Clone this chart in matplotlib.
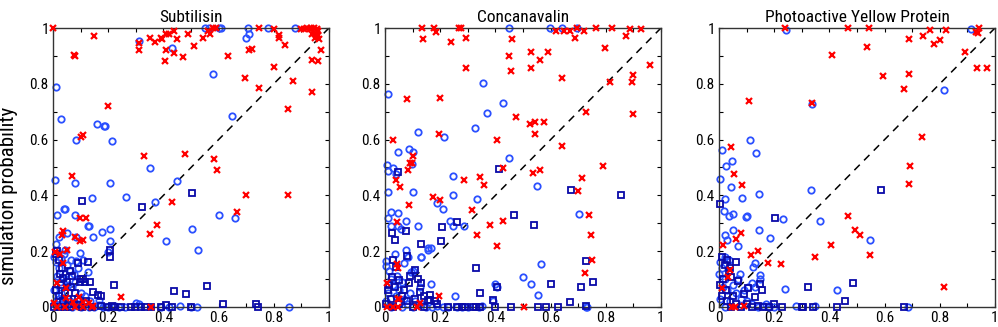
import matplotlib
matplotlib.use("Agg")
import matplotlib.pyplot as plt
from matplotlib import font_manager
import numpy as np

# ---------------- data ----------------
titles = ["Subtilisin", "Concanavalin", "Photoactive Yellow Protein"]
ylabel_text = "simulation probability"
tick_vals = [0, 0.2, 0.4, 0.6, 0.8, 1]
tick_labels = ["0", "0.2", "0.4", "0.6", "0.8", "1"]

# Subtilisin
sub_cross = [(0.0,1.0),(0.15,0.97),(0.08,0.90),(0.075,0.905),(0.2,0.72),(0.10,0.61),(0.11,0.615),(0.07,0.47),
    (0.33,0.54),(0.48,0.55),(0.585,0.53),(0.595,0.49),(0.43,0.375),(0.375,0.295),(0.35,0.26),(0.70,0.40),
    (0.667,0.34),(0.85,0.40),(0.85,0.71),(0.94,0.77),(0.745,0.785),(0.695,0.82),(0.80,0.86),(0.87,0.81),
    (0.635,0.90),(0.71,0.92),(0.72,0.925),(0.84,0.94),(0.82,0.975),(0.82,0.965),(0.80,0.995),(0.745,1.0),
    (0.90,0.995),(0.91,0.995),(0.92,1.0),(0.935,1.0),(0.945,1.0),(0.955,0.995),(0.96,0.99),(0.95,0.98),
    (0.96,0.975),(0.94,0.98),(0.93,0.995),(0.965,0.96),(0.97,0.92),(0.94,0.885),(0.96,0.88),(0.95,0.965),
    (0.31,0.92),(0.31,0.945),(0.35,0.965),(0.37,0.95),(0.39,0.965),(0.395,0.96),(0.41,0.98),(0.42,0.98),
    (0.44,0.99),(0.45,0.96),(0.44,0.91),(0.41,0.92),(0.405,0.88),(0.47,0.895),(0.49,0.98),(0.51,0.935),
    (0.545,0.965),(0.56,0.99),(0.57,0.98),(0.58,1.0),(0.59,1.0),
    (0.037,0.274),(0.034,0.258),(0.08,0.25),(0.098,0.235),(0.097,0.32),(0.12,0.32),(0.05,0.204),(0.007,0.198),
    (0.025,0.19),(0.037,0.156),(0.013,0.085),(0.046,0.067),(0.248,0.037),(0.005,0.016),(0.047,0.031),
    (0.073,0.019),(0.093,0.035),(0.11,0.019),(0.13,0.013),(0.146,0.004),(0.013,0.0),(0.043,0.0),(0.08,0.0),
    (0.11,0.0),(0.14,0.0),(0.356,0.0),(0.107,0.24)]
sub_circle = [(0.01,0.79),(0.03,0.675),(0.16,0.655),(0.185,0.65),(0.19,0.648),(0.085,0.6),(0.215,0.595),
    (0.006,0.455),(0.08,0.445),(0.205,0.445),(0.35,0.50),(0.45,0.45),(0.263,0.395),(0.37,0.375),(0.14,0.39),
    (0.04,0.35),(0.042,0.352),(0.015,0.33),(0.078,0.33),(0.125,0.29),(0.13,0.29),(0.60,0.33),(0.66,0.32),
    (0.505,0.28),(0.525,0.205),(0.41,0.235),(0.178,0.27),(0.208,0.28),(0.205,0.235),(0.145,0.25),(0.085,0.252),
    (0.05,0.264),(0.02,0.252),(0.01,0.226),(0.65,0.685),(0.58,0.835),(0.43,0.93),(0.312,0.955),(0.55,1.0),
    (0.565,1.0),(0.6,1.0),(0.61,1.0),(0.705,1.0),(0.71,0.98),(0.70,0.965),(0.78,1.0),(0.875,1.0),
    (0.855,0.0),(0.52,0.0),(0.5,0.0),(0.46,0.005),(0.42,0.0),(0.39,0.0),(0.31,0.01),(0.30,0.015),(0.26,0.0),
    (0.24,0.0),(0.225,0.003),(0.2,0.0),(0.18,0.0),(0.165,0.008),(0.15,0.0),
    (0.097,0.192),(0.11,0.168),(0.128,0.127),(0.2,0.198),(0.005,0.18),(0.01,0.16),(0.02,0.14),(0.03,0.175),
    (0.04,0.19),(0.05,0.15),(0.06,0.13),(0.075,0.12),(0.085,0.165),(0.09,0.14),(0.015,0.11),(0.025,0.09),
    (0.035,0.1),(0.045,0.12),(0.055,0.08),(0.07,0.07),(0.08,0.09),(0.1,0.05),(0.115,0.04),(0.005,0.06),
    (0.01,0.04),(0.02,0.03),(0.03,0.05),(0.04,0.03),(0.06,0.02),(0.09,0.01),(0.12,0.015),(0.135,0.02),
    (0.005,0.01),(0.015,0.005),(0.03,0.01),(0.05,0.005),(0.07,0.0),(0.1,0.0),(0.13,0.0),(0.165,0.025),
    (0.045,0.205),(0.065,0.17)]
sub_square = [(0.106,0.38),(0.322,0.36),(0.504,0.41),(0.205,0.205),(0.207,0.178),(0.22,0.078),(0.44,0.056),
    (0.483,0.048),(0.558,0.076),(0.616,0.012),(0.734,0.012),(0.742,0.0),(0.175,0.04),
    (0.09,0.157),(0.062,0.13),(0.032,0.138),(0.038,0.103),(0.029,0.079),(0.043,0.049),(0.067,0.073),
    (0.097,0.091),(0.115,0.09),(0.133,0.091),(0.145,0.055),(0.163,0.043),(0.175,0.004),(0.212,0.004),
    (0.248,0.0),(0.284,0.0),(0.296,0.0),(0.32,0.0),(0.332,0.0),(0.39,0.0),(0.41,0.008),(0.43,0.0),(0.5,0.0),
    (0.015,0.2),(0.02,0.17),(0.01,0.19),(0.025,0.12),(0.05,0.09),(0.01,0.06),(0.02,0.04),(0.035,0.02),
    (0.055,0.03),(0.075,0.01),(0.09,0.03),(0.105,0.0),(0.12,0.02),(0.14,0.0),(0.005,0.0),(0.025,0.0),
    (0.045,0.0),(0.06,0.0),(0.08,0.05),(0.1,0.1),(0.11,0.1),(0.125,0.16),(0.07,0.11),(0.2,0.0),(0.22,0.0),
    (0.355,0.0)]

# Concanavalin
con_cross = [(0.133,1.0),(0.178,1.0),(0.183,0.985),(0.139,0.96),(0.268,1.0),(0.275,1.0),(0.239,0.95),
    (0.293,0.964),(0.293,0.857),(0.448,0.90),(0.46,0.96),(0.455,0.847),(0.53,0.913),(0.53,0.857),(0.56,0.884),
    (0.59,0.914),(0.62,0.988),(0.648,0.99),(0.67,0.99),(0.695,1.0),(0.69,0.963),(0.72,0.99),(0.766,1.0),
    (0.824,1.0),(0.873,0.973),(0.888,0.996),(0.927,0.996),(0.796,0.93),(0.64,0.82),(0.815,0.806),(0.896,0.806),
    (0.9,0.832),(0.96,0.869),(0.73,0.70),(0.9,0.69),(0.473,0.682),(0.525,0.656),(0.543,0.662),(0.576,0.662),
    (0.545,0.619),(0.64,0.576),(0.406,0.60),(0.427,0.498),(0.537,0.48),(0.562,0.492),(0.714,0.462),
    (0.698,0.416),(0.789,0.507),(0.74,0.329),(0.748,0.257),(0.749,0.167),(0.724,0.122),(0.404,0.217),
    (0.428,0.31),(0.382,0.294),(0.333,0.257),(0.315,0.346),(0.343,0.465),(0.36,0.438),(0.285,0.456),
    (0.2,0.385),(0.173,0.395),(0.2,0.748),(0.195,0.62),(0.081,0.747),(0.028,0.60),(0.082,0.492),(0.092,0.516),
    (0.097,0.516),(0.1,0.54),(0.04,0.456),(0.055,0.43),(0.087,0.364),(0.045,0.306),(0.042,0.155),(0.048,0.14),
    (0.008,0.086),(0.194,0.038),(0.503,0.0),(0.048,0.03),(0.117,0.0),(0.008,0.0),(0.048,0.0),(0.03,0.0),
    (0.126,0.016),(0.05,0.027)]
con_circle = [(0.45,1.0),(0.598,1.0),(0.64,1.0),(0.697,1.0),(0.354,0.803),(0.012,0.763),(0.428,0.73),
    (0.37,0.695),(0.118,0.626),(0.326,0.642),(0.212,0.61),(0.448,0.534),(0.549,0.432),(0.703,0.333),
    (0.565,0.154),(0.5,0.108),(0.528,0.082),(0.553,0.043),(0.4,0.082),(0.391,0.02),(0.252,0.038),(0.733,0.0),
    (0.728,0.0),(0.008,0.51),(0.012,0.486),(0.012,0.412),(0.03,0.498),(0.048,0.557),(0.088,0.567),(0.1,0.557),
    (0.098,0.512),(0.1,0.412),(0.04,0.478),(0.048,0.338),(0.022,0.34),(0.012,0.319),(0.022,0.29),(0.048,0.292),
    (0.057,0.28),(0.076,0.31),(0.121,0.29),(0.245,0.47),(0.245,0.40),(0.333,0.388),(0.188,0.372),(0.21,0.35),
    (0.234,0.31),(0.246,0.29),(0.288,0.29),(0.036,0.19),(0.002,0.146),(0.002,0.166),(0.076,0.205),
    (0.085,0.18),(0.069,0.158),(0.13,0.18),(0.154,0.21),(0.167,0.21),(0.1,0.128),(0.167,0.084),(0.156,0.204),
    (0.129,0.18),(0.095,0.127),(0.126,0.073),(0.404,0.07),
    (0.02,0.1),(0.03,0.08),(0.05,0.06),(0.06,0.09),(0.04,0.04),(0.07,0.03),(0.09,0.05),(0.11,0.02),(0.13,0.01),
    (0.15,0.0),(0.17,0.0),(0.19,0.005),(0.21,0.0),(0.23,0.0),(0.26,0.0),(0.28,0.0),(0.3,0.0),(0.34,0.0),
    (0.35,0.005),(0.01,0.05),(0.005,0.02),(0.02,0.0),(0.06,0.0),(0.08,0.01),(0.1,0.0),(0.015,0.13),(0.045,0.11)]
con_square = [(0.412,0.495),(0.048,0.484),(0.027,0.265),(0.036,0.241),(0.077,0.272),(0.206,0.286),
    (0.261,0.303),(0.202,0.238),(0.467,0.331),(0.541,0.295),(0.673,0.42),(0.855,0.40),(0.132,0.226),
    (0.081,0.183),(0.029,0.168),(0.041,0.145),(0.107,0.133),(0.025,0.109),(0.049,0.097),(0.086,0.087),
    (0.12,0.1),(0.13,0.085),(0.125,0.055),(0.14,0.04),(0.155,0.025),(0.163,0.025),(0.163,0.043),(0.18,0.02),
    (0.331,0.141),(0.343,0.051),(0.391,0.025),(0.404,0.072),(0.6,0.081),(0.67,0.018),(0.709,0.072),
    (0.728,0.165),(0.752,0.09),(0.728,0.005),(0.458,0.0),(0.4,0.0),(0.554,0.0),(0.583,0.0),(0.627,0.0),
    (0.23,0.0),(0.26,0.0),(0.28,0.0),(0.29,0.0),(0.32,0.0),(0.33,0.0),(0.345,0.0),(0.01,0.06),(0.02,0.03),
    (0.03,0.0),(0.05,0.01),(0.06,0.04),(0.07,0.06),(0.08,0.02),(0.1,0.0),(0.11,0.03),(0.015,0.08),
    (0.035,0.07),(0.005,0.01),(0.09,0.11),(0.14,0.0),(0.19,0.01)]

# Photoactive Yellow Protein
pyp_cross = [(0.239,1.0),(0.467,1.0),(0.542,1.0),(0.766,0.994),(0.823,0.994),(0.942,1.0),(0.94,0.983),
    (0.93,0.985),(0.408,0.904),(0.536,0.932),(0.69,0.962),(0.739,0.97),(0.778,0.943),(0.8,0.958),(0.89,0.914),
    (0.936,0.857),(0.972,0.857),(0.596,0.827),(0.69,0.834),(0.671,0.78),(0.336,0.731),(0.109,0.74),
    (0.736,0.609),(0.693,0.504),(0.687,0.441),(0.467,0.327),(0.493,0.277),(0.512,0.258),(0.407,0.223),
    (0.548,0.185),(0.348,0.179),(0.815,0.072),(0.224,0.155),(0.176,0.156),(0.143,0.2),(0.116,0.186),
    (0.08,0.266),(0.06,0.244),(0.055,0.475),(0.042,0.572),(0.084,0.436),(0.016,0.222),(0.04,0.133),
    (0.032,0.109),(0.01,0.067),(0.046,0.0),(0.058,0.0),(0.092,0.005)]
pyp_circle = [(0.912,0.996),(0.242,0.994),(0.336,0.727),(0.815,0.777),(0.112,0.6),(0.133,0.552),(0.011,0.564),
    (0.002,0.457),(0.024,0.504),(0.047,0.523),(0.045,0.429),(0.021,0.388),(0.084,0.391),(0.145,0.405),
    (0.333,0.42),(0.018,0.343),(0.036,0.325),(0.051,0.333),(0.098,0.323),(0.1,0.326),(0.233,0.315),
    (0.366,0.307),(0.145,0.277),(0.051,0.277),(0.023,0.257),(0.028,0.24),(0.069,0.22),(0.184,0.247),
    (0.548,0.239),(0.239,0.065),(0.427,0.06),(0.279,0.005),(0.348,0.005),(0.684,0.0),
    (0.13,0.156),(0.124,0.144),(0.149,0.115),(0.149,0.1),(0.119,0.085),(0.13,0.07),(0.104,0.07),(0.005,0.16),
    (0.01,0.14),(0.0,0.12),(0.02,0.1),(0.03,0.06),(0.05,0.08),(0.06,0.05),(0.08,0.03),(0.09,0.06),(0.1,0.02),
    (0.12,0.01),(0.14,0.0),(0.16,0.005),(0.18,0.0),(0.2,0.0),(0.17,0.01),(0.07,0.1),(0.075,0.12),(0.04,0.02),
    (0.02,0.0),(0.005,0.03),(0.015,0.07),(0.035,0.17),(0.02,0.18)]
pyp_square = [(0.002,0.37),(0.202,0.319),(0.587,0.42),(0.484,0.087),(0.324,0.072),(0.457,0.02),(0.427,0.0),
    (0.342,0.0),(0.306,0.0),(0.227,0.0),(0.2,0.012),(0.669,0.0),(0.062,0.163),(0.028,0.168),(0.044,0.109),
    (0.07,0.093),(0.104,0.067),(0.131,0.035),(0.149,0.083),(0.155,0.06),(0.04,0.14),(0.035,0.13),(0.3,0.0),
    (0.01,0.18),(0.02,0.15),(0.015,0.1),(0.005,0.08),(0.01,0.04),(0.03,0.02),(0.05,0.04),(0.06,0.01),
    (0.08,0.0),(0.1,0.01),(0.12,0.0),(0.14,0.005),(0.16,0.0),(0.18,0.0),(0.09,0.045),(0.025,0.06),(0.045,0.0)]

panels = [
    (sub_circle, sub_square, sub_cross),
    (con_circle, con_square, con_cross),
    (pyp_circle, pyp_square, pyp_cross),
]

# ---------------- font: prefer a narrow sans (Helvetica-Narrow look) ----------------
narrow_path = None
for f in font_manager.fontManager.ttflist:
    nm = f.name.lower()
    fn = f.fname.lower()
    if ("narrow" in nm or "narrow" in fn or "condensed" in fn) and f.style == "normal" \
            and f.weight in (400, "normal", "regular") and "mono" not in fn and "serif" not in fn.replace("sans", ""):
        narrow_path = f.fname
        if "liberation" in fn:
            break
if narrow_path is not None:
    font_manager.fontManager.addfont(narrow_path)
    fam = font_manager.FontProperties(fname=narrow_path).get_name()
    plt.rcParams["font.family"] = [fam, "Liberation Sans", "DejaVu Sans"]
    base_scale = 1.0
else:
    plt.rcParams["font.family"] = ["Liberation Sans", "DejaVu Sans"]
    base_scale = 0.9

circle_color = "#2b50ff"
square_color = "#0a0aa8"
cross_color = "#ff0000"

fig = plt.figure(figsize=(9.98, 3.27), dpi=100)
lefts = [53 / 998, 385 / 998, 719 / 998]
width = 276 / 998
bottom = 1 - 307 / 327
height = 279 / 327

for i, (circ, sq, cr) in enumerate(panels):
    ax = fig.add_axes([lefts[i], bottom, width, height])
    ax.plot([0, 1], [0, 1], linestyle=(0, (5, 4)), color="black", lw=1.1, zorder=1)
    cx, cy = zip(*circ)
    ax.plot(cx, cy, linestyle="none", marker="o", ms=4.6, mfc="none", mec=circle_color, mew=1.3,
            clip_on=False, zorder=2)
    sx, sy = zip(*sq)
    ax.plot(sx, sy, linestyle="none", marker="s", ms=4.2, mfc="none", mec=square_color, mew=1.3,
            clip_on=False, zorder=3)
    rx, ry = zip(*cr)
    ax.plot(rx, ry, linestyle="none", marker="x", ms=4.2, color=cross_color, mew=1.6,
            clip_on=False, zorder=4)
    ax.set_xlim(0, 1)
    ax.set_ylim(0, 1)
    ax.set_xticks(tick_vals)
    ax.set_xticklabels(tick_labels)
    ax.set_yticks(tick_vals)
    ax.set_yticklabels(tick_labels)
    ax.set_xticks(np.arange(0.1, 1.0, 0.2), minor=True)
    ax.set_yticks(np.arange(0.1, 1.0, 0.2), minor=True)
    ax.tick_params(which="both", direction="in", top=True, right=True, length=3, width=0.8,
                   labelsize=11 * base_scale, pad=3)
    for s in ax.spines.values():
        s.set_linewidth(1.0)
        s.set_color("#333333")
    ax.set_title(titles[i], fontsize=12.5 * base_scale, pad=4)
    if i == 0:
        ax.set_ylabel(ylabel_text, fontsize=15 * base_scale)
        ax.yaxis.set_label_coords(-0.125, 0.40)

fig.savefig("out.png", dpi=100)
